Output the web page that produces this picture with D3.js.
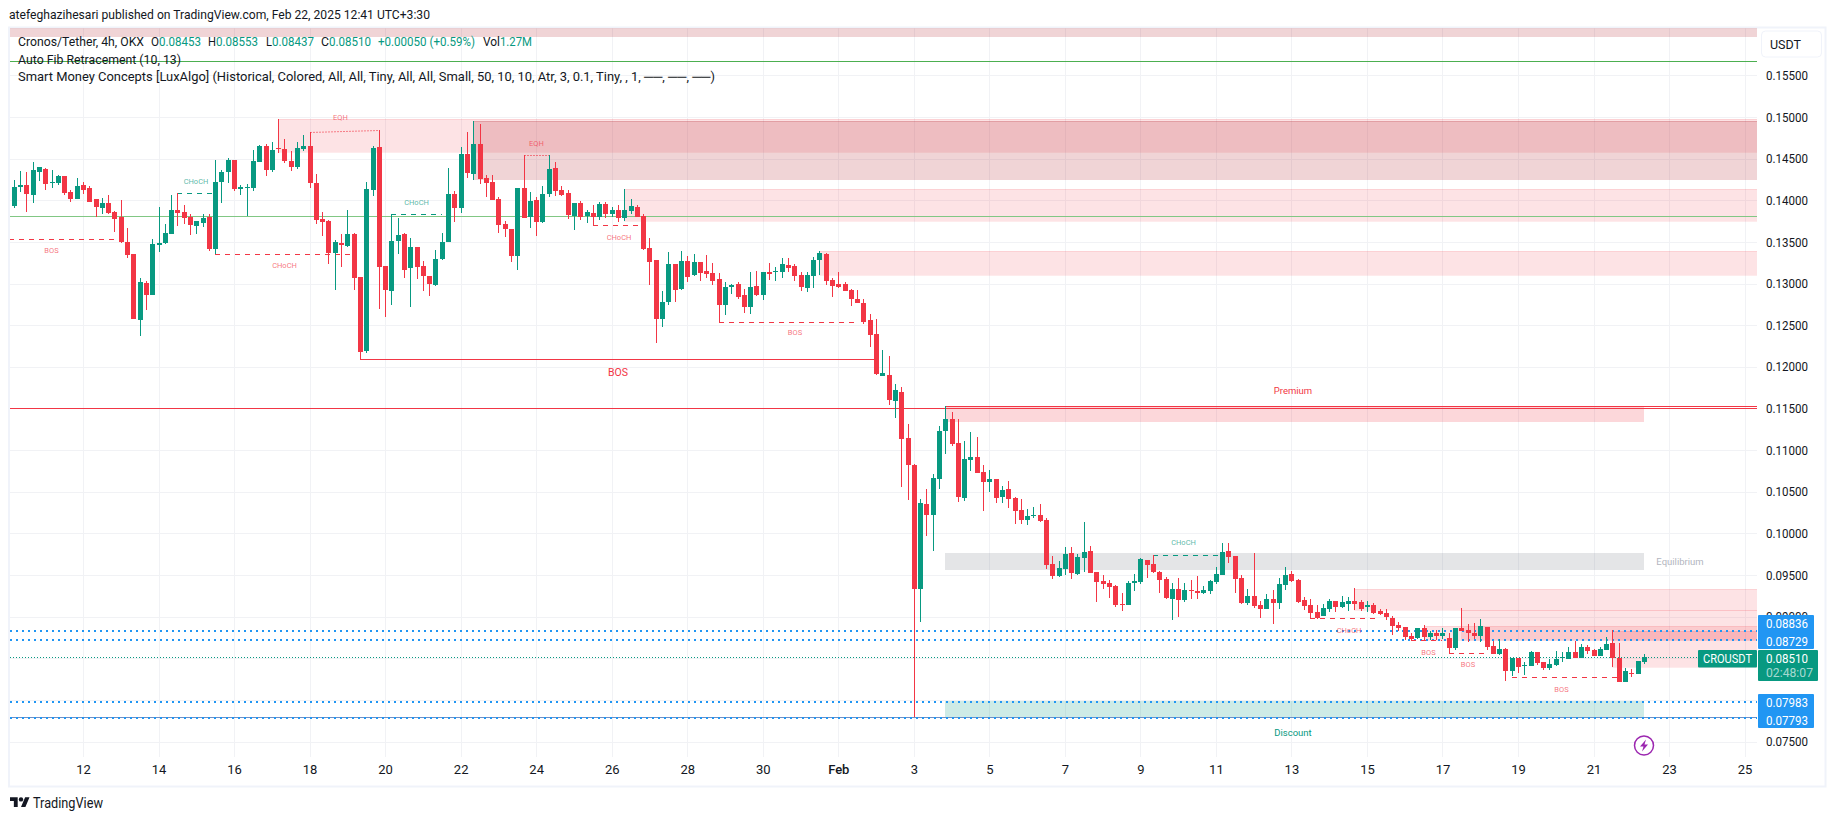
<!DOCTYPE html>
<html><head><meta charset="utf-8">
<script src="https://cdn.jsdelivr.net/npm/d3@7/dist/d3.min.js"></script>
<style>
html,body{margin:0;padding:0;background:#fff;overflow:hidden}
text{font-family:Roboto,"Noto Sans",sans-serif}
</style></head><body><svg id="c" width="1835" height="821"></svg>
<script>
const opensRaw=[13936,14164,14188,14068,14344,14380,14212,14212,14296,14104,14020,14188,14152,14020,13912,13972,13864,13804,13504,13360,12556,13012,12868,13468,13492,13600,13888,13864,13804,13696,13732,13804,13420,14224,14344,14488,14140,14152,14152,14464,14656,14368,14628,14620,14476,14404,14620,14656,14212,13780,13756,13372,13492,13456,13600,13084,12184,14128,14644,13216,12916,13516,13600,13192,13444,13216,13096,12988,13300,13504,14080,13912,14560,14320,14680,14272,14224,14020,13720,13660,13336,14152,13804,14008,13744,14080,14392,14128,14092,13816,13972,13816,13852,13804,13960,13840,13888,13792,13876,13924,13816,13432,13288,12568,12784,13240,12940,13276,13108,13264,13156,13132,13060,12748,12964,13000,12868,12724,12976,12868,13144,13144,13144,13228,13216,13108,12952,13096,13288,13360,13048,13000,13000,12928,12820,12772,12556,12388,11884,
11904,11592,11700,11148,10824,9336,10356,10224,10656,11232,11376,11088,10428,10884,10920,10740,10620,10656,10440,10536,10428,10284,10164,10212,10224,10164,9636,9492,9576,9768,9516,9708,9792,9540,9432,9408,9372,9156,9144,9408,9420,9684,9636,9540,9456,9216,9336,9204,9324,9312,9288,9312,9420,9504,9792,9732,9468,9168,9252,9144,9096,9216,9168,9384,9516,9444,9204,9144,9060,
9004,9088,9184,9112,9148,9184,9172,9116,9136,9064,9040,8980,8896,8872,8764,8740,8860,8752,8800,8764,8740,8620,8860,8836,8800,8764,8872,8644,8548,8608,8344,8500,8408,8404,8572,8452,8380,8416,8500,8488,8572,8500,8632,8596,8524,8596,8680,8500,8212,8328,8308,8453];
const highsRaw=[14248,14356,14344,14464,14404,14392,14368,14308,14296,14128,14272,14224,14176,14020,14032,14068,13876,14008,13672,13360,13072,13036,13540,13924,13720,14068,14088,13948,13840,13756,13840,13840,14488,14368,14512,14488,14188,14200,14608,14668,14680,14704,14980,14740,14596,14704,14788,14824,14320,13864,13768,13528,13600,13888,13612,13084,14224,14656,14848,13216,13840,13792,13612,13552,13444,13276,13096,13408,13612,14392,14116,14644,14824,14956,14920,14308,14308,14044,13756,13660,14152,14548,14104,14044,14176,14548,14464,14176,14128,13972,13996,13888,13948,13984,13984,13924,13948,14140,14020,13948,13840,13552,13288,12916,13384,13240,13396,13336,13360,13264,13348,13252,13132,13024,13000,13024,12940,13144,13156,13144,13252,13204,13312,13312,13240,13144,13144,13324,13396,13372,13072,13144,13024,12940,12928,12820,12640,12568,12196,
12132,11796,11760,11316,10836,10416,10536,10716,11292,11532,11460,11376,11112,11220,11160,10824,10764,10656,10572,10632,10440,10416,10296,10320,10356,10188,9732,9672,9840,9840,9756,10140,9852,9540,9504,9444,9384,9288,9432,9516,9708,9684,9744,9552,9480,9408,9468,9408,9444,9492,9372,9444,9600,9888,9888,9732,9504,9336,9768,9192,9276,9324,9468,9600,9552,9456,9240,9216,9144,
9148,9208,9184,9244,9232,9340,9196,9184,9160,9088,9088,9004,8932,8872,8800,8860,8896,8824,8836,8860,8800,8860,9100,8908,8920,8968,8872,8704,8728,8620,8500,8500,8452,8584,8572,8452,8488,8584,8572,8632,8704,8668,8656,8608,8632,8752,8836,8680,8380,8368,8464,8553];
const lowsRaw=[13912,14104,13864,13972,14236,14128,14152,14188,14068,13984,14020,14080,13984,13804,13840,13840,13624,13492,13312,12568,12364,12688,12868,13384,13480,13600,13696,13720,13588,13600,13684,13396,13356,13972,14212,14116,14068,13816,14116,14464,14296,14344,14572,14452,14356,14380,14596,14152,13720,13576,13240,12928,13204,13444,12928,12096,12160,14056,12700,12604,12748,13360,13072,12724,13060,12916,12856,12976,13288,13504,13744,13852,14272,14248,14200,14044,14008,13612,13564,13264,13168,13792,13672,13576,13732,14044,14056,14056,13780,13648,13768,13732,13696,13768,13792,13804,13744,13756,13840,13804,13408,12988,12280,12472,12748,12784,12928,13024,13096,13036,13072,12988,12540,12628,12880,12820,12652,12640,12856,12808,13048,13036,13072,13144,13036,12916,12904,12952,13108,12988,12844,12952,12916,12736,12772,12508,12232,11896,11884,
11544,11388,10560,10404,7793,8940,9972,9792,10536,10956,11052,10380,10392,10752,10728,10272,10500,10368,10368,10308,10116,10116,10104,10188,10140,9576,9456,9480,9504,9456,9504,9540,9528,9180,9336,9228,9120,9072,9144,9312,9396,9468,9528,9288,9216,8964,9000,9180,9216,9216,9276,9276,9396,9504,9648,9288,9156,9144,9108,8988,9096,8916,9096,9324,9420,9168,9084,8976,8976,
9004,9052,9052,9100,9064,9076,9064,9052,9028,9016,8956,8776,8824,8716,8716,8728,8716,8716,8716,8728,8560,8596,8824,8692,8728,8692,8596,8548,8536,8224,8284,8320,8296,8404,8416,8356,8356,8404,8452,8488,8500,8500,8548,8524,8524,8596,8392,8212,8212,8272,8308,8437];
const closesRaw=[14164,14188,14080,14368,14404,14200,14224,14296,14092,14020,14176,14128,13984,13924,13972,13852,13780,13504,13348,12568,13024,12868,13480,13492,13612,13888,13852,13792,13708,13756,13792,13420,14224,14344,14488,14140,14164,14164,14476,14656,14368,14608,14620,14476,14404,14632,14656,14212,13768,13744,13372,13504,13468,13600,13072,12172,14140,14632,13204,12928,13516,13588,13168,13444,13204,13096,13000,13300,13504,14080,13912,14560,14332,14680,14260,14212,14008,13708,13660,13336,14152,13792,13996,13744,14080,14380,14116,14068,13828,13972,13804,13864,13804,13960,13840,13888,13792,13888,13936,13804,13420,13264,12568,12784,13240,12928,13276,13084,13264,13132,13120,13036,12748,12964,12988,12844,12724,12964,12868,13144,13120,13156,13240,13192,13096,12964,13108,13288,13372,13036,12976,12964,12916,12820,12772,12532,12376,11908,11920,
11604,11724,11136,10824,9336,10368,10224,10668,11232,11376,11076,10440,10896,10920,10728,10620,10656,10428,10524,10416,10272,10164,10212,10224,10152,9624,9492,9588,9756,9528,9720,9780,9528,9420,9396,9360,9144,9144,9408,9432,9696,9624,9540,9444,9228,9336,9204,9324,9312,9288,9324,9432,9516,9780,9720,9456,9168,9252,9132,9096,9216,9168,9396,9504,9432,9180,9132,9048,8988,
9100,9184,9112,9172,9184,9148,9088,9136,9040,9028,8992,8884,8860,8752,8728,8860,8752,8800,8764,8800,8620,8860,8824,8800,8764,8884,8632,8548,8608,8344,8500,8392,8416,8572,8440,8380,8428,8488,8512,8572,8500,8632,8584,8524,8608,8668,8500,8212,8344,8320,8464,8510];

const yTickValues=[0.155,0.15,0.145,0.14,0.135,0.13,0.125,0.12,0.115,0.11,0.105,0.1,0.095,0.09,0.085,0.08,0.075];
const xTickLabels=['12','14','16','18','20','22','24','26','28','30','Feb','3','5','7','9','11','13','15','17','19','21','23','25'];
const xTickDates=['2025-01-12','2025-01-14','2025-01-16','2025-01-18','2025-01-20','2025-01-22','2025-01-24','2025-01-26','2025-01-28','2025-01-30','2025-02-01','2025-02-03','2025-02-05','2025-02-07','2025-02-09','2025-02-11','2025-02-13','2025-02-15','2025-02-17','2025-02-19','2025-02-21','2025-02-23','2025-02-25'];

// Order-block / zone boxes: first bar index (null = from left edge), runs to last bar (true) or pane edge (false), price top/bottom, kind
const zoneStartBar=[null,42,73,97,128,148,148,148,213,230,224,254];
const zoneEndsAtLastBar=[false,false,false,false,false,true,true,true,false,false,false,false];
const zoneTop=[0.165,0.1498,0.14948,0.1414,0.13396,0.11532,0.0976,0.07983,0.09335,0.09083,0.08887,0.08831];
const zoneBottom=[0.15975,0.1458,0.14252,0.13756,0.13108,0.1134,0.09564,0.07793,0.09075,0.08715,0.08722,0.08396];
const zoneKind=['dark','light','dark','light','light','premium','equil','discount','light','light','light','light'];

// Market-structure lines: from bar, to bar, price at each end, kind, label, label price
const structFrom=[-4,26,32,60,55,47,81,92,112,181,206,222,228,238];
const structTo=[16,32,54,68,137,58,85,100,134,192,217,227,234,255];
const structP1=[0.13536,0.14088,0.13356,0.13836,0.12096,0.14824,0.14548,0.13704,0.1254,0.0974,0.08984,0.08722,0.08564,0.08276];
const structP2=[0.13536,0.14088,0.13356,0.13836,0.12096,0.14848,0.14548,0.13704,0.1254,0.0974,0.08984,0.08722,0.08564,0.08276];
const structKind=['rd','gd','rd','gd','rs','rq','rq','rd','rd','gd','rd','rd','rd','rd'];
const structLabel=['BOS','CHoCH','CHoCH','CHoCH','BOS','EQH','EQH','CHoCH','BOS','CHoCH','CHoCH','BOS','BOS','BOS'];
const structLabelPrice=[0.13392,0.14232,0.13212,0.1398,0.11928,0.14996,0.14688,0.1356,0.12408,0.09896,0.08836,0.08572,0.08424,0.08132];
const structLabelNudge=[0,0,0,0,0,-4,0,1,7,-4,4,2,0,-4];

const fibGreen=[0.15668,0.13812];
const redLines=[0.11504];
const blueDotted=[0.08836,0.08729,0.07983,0.07793];
const lastPrice=0.0851;

const toPrice=v=>v/1e5;
const opens=opensRaw.map(toPrice),highs=highsRaw.map(toPrice),lows=lowsRaw.map(toPrice),closes=closesRaw.map(toPrice);

const UP='#089981',DOWN='#f23645',BLUE='#2196f3',INK='#131722';
const H4=4*3600e3, lastBar=Date.UTC(2025,1,22,8);
const paneL=10,paneR=1757,paneT=28,paneB=757;
const x=d3.scaleUtc().domain([new Date('2025-01-12'),new Date('2025-02-25')]).range([83,1744.6]);
const y=d3.scaleLinear().domain([0.155,0.075]).range([75.3,741.6]);
const barX=i=>Math.round(x(new Date(lastBar-(opens.length-1-i)*H4)));
const py=p=>Math.round(y(p));

const svg=d3.select('#c');
svg.append('defs').append('clipPath').attr('id','pane').append('rect').attr('x',paneL).attr('y',paneT).attr('width',paneR-paneL).attr('height',paneB-paneT);
svg.append('rect').attr('x',9).attr('y',27.5).attr('width',1816.5).attr('height',759).attr('fill','#fff').attr('stroke','#f0f3fa').attr('stroke-width',2);

// Title
svg.append('text').attr('x',9).attr('y',19).attr('font-size',13.5).attr('fill',INK).attr('textLength',421).attr('lengthAdjust','spacingAndGlyphs').text('atefeghazihesari published on TradingView.com, Feb 22, 2025 12:41 UTC+3:30');

// Grid
const grid=svg.append('g').attr('stroke','#f1f2f5').attr('stroke-width',1).attr('shape-rendering','crispEdges');
grid.selectAll('.h').data(yTickValues).join('line').attr('x1',paneL).attr('x2',paneR).attr('y1',d=>py(d)).attr('y2',d=>py(d));
grid.selectAll('.v').data(xTickDates).join('line').attr('x1',d=>Math.round(x(new Date(d)))).attr('x2',d=>Math.round(x(new Date(d)))).attr('y1',paneT).attr('y2',paneB);

const chart=svg.append('g').attr('clip-path','url(#pane)');

// Zones
const zoneStyle={dark:['#b22833',0.2],light:[DOWN,0.14],premium:[DOWN,0.2],equil:['#787b86',0.2],discount:[UP,0.2]};
zoneStartBar.forEach((s,i)=>{
  const [col,a]=zoneStyle[zoneKind[i]];
  const x0=s===null?paneL:barX(s), x1=zoneEndsAtLastBar[i]?barX(opens.length-1):paneR+2;
  const y0=py(zoneTop[i]),y1=py(zoneBottom[i]);
  chart.append('rect').attr('x',x0).attr('y',y0).attr('width',x1-x0).attr('height',y1-y0).attr('fill',col).attr('fill-opacity',a).attr('shape-rendering','crispEdges');
  if(['dark','light'].includes(zoneKind[i])){
    chart.append('path').attr('d',`M${x0} ${y0+.5}H${x1}M${x0} ${y1+.5}H${x1}`).attr('stroke',col).attr('stroke-opacity',zoneKind[i]=='dark'?0.2:0.1).attr('fill','none').attr('shape-rendering','crispEdges');
  }
});

// Horizontal levels
const hline=(p,col,w,dash,op)=>chart.append('line').attr('x1',paneL).attr('x2',paneR).attr('y1',py(p)+.5).attr('y2',py(p)+.5).attr('stroke',col).attr('stroke-width',w).attr('stroke-dasharray',dash||null).attr('stroke-opacity',op||1).attr('shape-rendering','crispEdges');
hline(fibGreen[0],'#4caf50',1);
hline(fibGreen[1],'#81c784',1);
chart.append('line').attr('x1',barX(148)).attr('x2',paneR).attr('y1',py(0.11528)+.5).attr('y2',py(0.11528)+.5).attr('stroke',DOWN).attr('shape-rendering','crispEdges');
redLines.forEach(p=>hline(p,DOWN,1));
hline(blueDotted[3],'#6f8fc4',1);
blueDotted.forEach(p=>hline(p,BLUE,2,'2 4'));
hline(lastPrice,UP,1,'1 2');

// Structure lines
const sCol=k=>k[0]=='g'?UP:DOWN;
const sDash={d:'5 5',s:null,q:'2 1'};
structFrom.forEach((s,i)=>{
  const k=structKind[i];
  chart.append('line').attr('x1',barX(s)).attr('x2',barX(structTo[i])).attr('y1',py(structP1[i])+.5).attr('y2',py(structP2[i])+.5)
    .attr('stroke',sCol(k)).attr('stroke-width',1).attr('stroke-dasharray',sDash[k[1]]).attr('stroke-opacity',k[1]=='q'?0.6:1)
    .attr('shape-rendering',k=='rq'&&structP1[i]!=structP2[i]?'auto':'crispEdges');
});

// Candles
const candles=chart.selectAll('.candle').data(opens).join('g').attr('class','candle').attr('shape-rendering','crispEdges')
  .attr('fill',(d,i)=>closes[i]>=d?UP:DOWN);
candles.append('rect').attr('x',(d,i)=>barX(i)).attr('width',1).attr('y',(d,i)=>py(highs[i])).attr('height',(d,i)=>Math.max(1,py(lows[i])-py(highs[i])));
candles.append('rect').attr('x',(d,i)=>barX(i)-2).attr('width',5).attr('y',(d,i)=>py(Math.max(d,closes[i]))).attr('height',(d,i)=>Math.max(1,py(Math.min(d,closes[i]))-py(Math.max(d,closes[i]))));

// Structure labels
structLabel.forEach((t,i)=>{
  const big=structKind[i]=='rs';
  chart.append('text').attr('x',(barX(structFrom[i])+barX(structTo[i]))/2+structLabelNudge[i]).attr('y',y(structLabelPrice[i])).attr('dy','.35em').attr('text-anchor','middle')
    .attr('font-size',big?10.5:7.5).attr('fill',sCol(structKind[i])).attr('fill-opacity',big?1:0.7).text(t);
});

// Zone labels
const zoneLabels=['Premium','Equilibrium','Discount'];
const zoneLabelPrice=[0.11711,0.09664,0.07607];
const zoneLabelBar=[207,null,207];
const zoneLabelCol=[DOWN,'#b2b5be',UP];
zoneLabels.forEach((t,i)=>{
  const cx=zoneLabelBar[i]===null?barX(opens.length-1)+36:barX(zoneLabelBar[i])-24;
  chart.append('text').attr('x',cx).attr('y',y(zoneLabelPrice[i])).attr('dy','.35em').attr('text-anchor','middle').attr('font-size',9.5).attr('fill',zoneLabelCol[i]).text(t);
});

// Legend
const L=svg.append('g').attr('font-size',13).attr('fill',INK);
const legendPieces=[
 ['Cronos/Tether, 4h, OKX',18,126,41,INK],['O',151,8,41,INK],['0.08453',159,42,41,UP],['H',208,8,41,INK],['0.08553',216,42,41,UP],
 ['L',266,6,41,INK],['0.08437',272,42,41,UP],['C',321,8,41,INK],['0.08510',329,42,41,UP],['+0.00050 (+0.59%)',378,97,41,UP],
 ['Vol',483,17,41,INK],['1.27M',500,32,41,UP],
 ['Auto Fib Retracement (10, 13)',18,163,59,INK],
 ['Smart Money Concepts [LuxAlgo] (Historical, Colored, All, All, Tiny, All, All, Small, 50, 10, 10, Atr, 3, 0.1, Tiny, , 1, ──, ──, ──)',18,697,76,INK]];
legendPieces.forEach(([t,xx,w,yy,c])=>L.append('text').attr('x',xx).attr('y',yy).attr('dy','.35em').attr('fill',c).attr('textLength',w).attr('lengthAdjust','spacingAndGlyphs').text(t));

// Axes
const yAxis=d3.axisRight(y).tickValues(yTickValues).tickSize(0).tickPadding(0).tickFormat(d3.format('.5f'));
const gy=svg.append('g').attr('transform','translate(1766,0)').call(yAxis);
gy.select('.domain').remove();
gy.selectAll('text').attr('font-size',13).attr('fill',INK).attr('font-family','Roboto').attr('textLength',42).attr('lengthAdjust','spacingAndGlyphs');
const labelByDate=new Map(xTickDates.map((d,i)=>[+new Date(d),xTickLabels[i]]));
const xAxis=d3.axisBottom(x).tickValues(xTickDates.map(d=>new Date(d))).tickSize(0).tickPadding(0).tickFormat(d=>labelByDate.get(+d));
const gx=svg.append('g').attr('transform','translate(0,765)').call(xAxis);
gx.select('.domain').remove();
gx.selectAll('text').attr('font-size',13).attr('fill',INK).attr('font-family','Roboto').attr('font-weight',d=>labelByDate.get(+d)=='Feb'?500:400);

// USDT
svg.append('rect').attr('x',1761.5).attr('y',31).attr('width',60).attr('height',26).attr('rx',4).attr('fill','#fff').attr('stroke','#f0f3fa');
svg.append('text').attr('x',1770).attr('y',44.5).attr('dy','.35em').attr('font-size',12.5).attr('fill',INK).text('USDT');

// Price tags
const tag=(xx,yy,w,h,col,rx)=>svg.append('rect').attr('x',xx).attr('y',yy).attr('width',w).attr('height',h).attr('fill',col).attr('rx',rx||1);
const tagT=(t,xx,yy,op,w)=>svg.append('text').attr('x',xx).attr('y',yy).attr('dy','.35em').attr('font-size',13).attr('fill','#fff').attr('fill-opacity',op||1).attr('textLength',w||42).attr('lengthAdjust','spacingAndGlyphs').text(t);
tag(1758,615,56,34,BLUE);tag(1758,694,56,34,BLUE);
tagT(d3.format('.5f')(blueDotted[0]),1766,623.5);tagT(d3.format('.5f')(blueDotted[1]),1766,641);
tagT(d3.format('.5f')(blueDotted[2]),1766,702.5);tagT(d3.format('.5f')(blueDotted[3]),1766,720);
tag(1758,650,60,31,UP);tag(1698,650,59,17.5,UP);
tagT('CROUSDT',1703,658.5,1,49);tagT(d3.format('.5f')(lastPrice),1766,658.5);tagT('02:48:07',1766,672.5,.65,47);

// Lightning badge
const b=svg.append('g').attr('transform',`translate(${barX(opens.length-1)},745.5)`);
b.append('circle').attr('r',9.5).attr('fill','#fff').attr('stroke','#9c27b0').attr('stroke-width',1.5);
b.append('path').attr('d','M2 -6 L-4 1 L-0.5 1 L-2 6 L4 -1 L0.5 -1 Z').attr('fill','#9c27b0');

// Logo
const logo=svg.append('g').attr('transform','translate(10,795) scale(0.55)').attr('fill',INK);
logo.append('path').attr('d','M14 22H7V11H0V4h14v18zM28 22h-8l7.5-18h8L28 22z');
logo.append('circle').attr('cx',20).attr('cy',8).attr('r',4);
svg.append('text').attr('x',33).attr('y',803).attr('dy','.35em').attr('font-size',14).attr('fill',INK).attr('textLength',70).attr('lengthAdjust','spacingAndGlyphs').text('TradingView');
</script></body></html>
